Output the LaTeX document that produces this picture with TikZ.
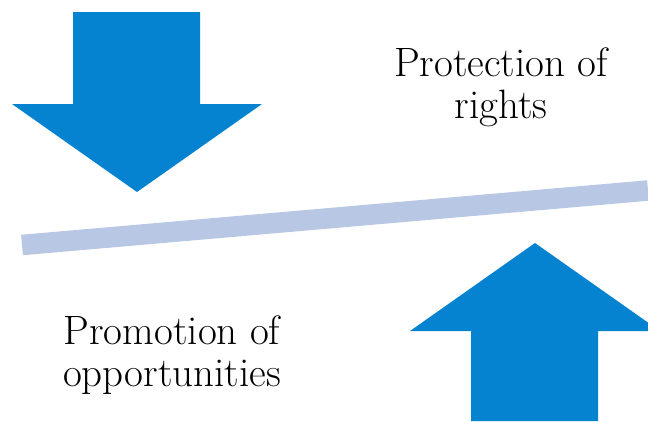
\documentclass[tikz,border=0pt]{standalone}
\definecolor{arrowblue}{RGB}{6,131,208}
\definecolor{barblue}{RGB}{184,199,228}
\tikzset{every picture/.style={line width=0.75pt}}
\tikzset{
  bigarrow/.style={fill=arrowblue, draw=none},
  labeltext/.style={align=center, font=\fontsize{41}{42}\selectfont, inner sep=0pt},
}
\begin{document}
\begin{tikzpicture}[x=1pt,y=1pt,yscale=-1,xscale=1]
	\useasboundingbox (0,0) rectangle (648,421);

	%Shape: Down Arrow [id:down]
	\fill [bigarrow] (73,12) -- (200,12) -- (200,104) -- (262,104) -- (137,192) -- (12,104) -- (73,104) -- cycle ;
	%Shape: Up Arrow [id:up]
	\fill [bigarrow] (471,421) -- (471,331) -- (410,331) -- (535,243) -- (660,331) -- (598,331) -- (598,421) -- cycle ;

	%Straight Lines [id:bar]
	\coordinate (barL) at (22,245) ;
	\coordinate (barR) at (648,190.5) ;
	\draw [barblue, line width=20.5] (barL) -- (barR) ;

	% Text Node
	\node [labeltext] (rights) at (501,87) {Protection of\\rights};
	% Text Node
	\node [labeltext] (opps) at (172,355) {Promotion of\\opportunities};

\end{tikzpicture}
\end{document}
